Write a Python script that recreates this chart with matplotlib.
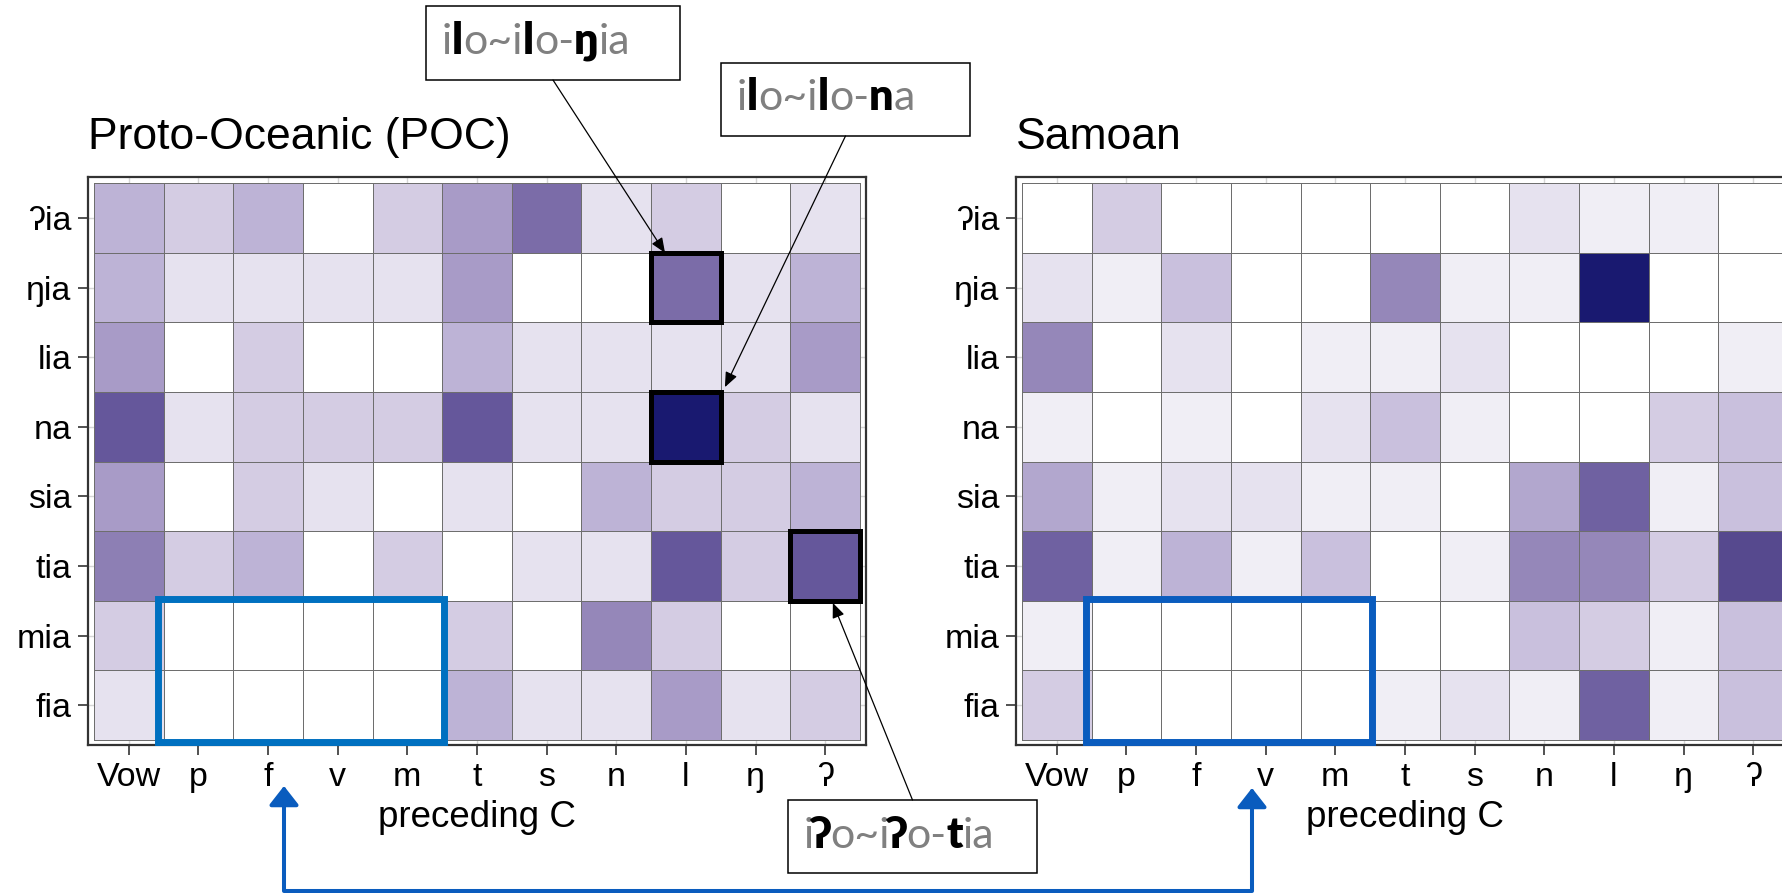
import numpy as np
import matplotlib
matplotlib.use("Agg")
from matplotlib import pyplot as plt
from matplotlib.colors import LinearSegmentedColormap
from matplotlib.patches import Rectangle, FancyArrowPatch
from matplotlib.path import Path
from matplotlib.offsetbox import TextArea, HPacker, AnnotationBbox

plt.rcParams['font.family'] = ['Liberation Sans', 'DejaVu Sans']

preceding = ['Vow', 'p', 'f', 'v', 'm', 't', 's', 'n', 'l', 'ŋ', 'ʔ']
suffixes = ['ʔia', 'ŋia', 'lia', 'na', 'sia', 'tia', 'mia', 'fia']

# shade levels, 0 = white, 10 = darkest
poc = [
    [4, 3, 4, 0, 3, 5, 7, 2, 3, 0, 2],
    [4, 2, 2, 2, 2, 5, 0, 0, 7, 2, 4],
    [5, 0, 3, 0, 0, 4, 2, 2, 2, 2, 5],
    [8, 2, 3, 3, 3, 8, 2, 2, 10, 3, 2],
    [5, 0, 3, 2, 0, 2, 0, 4, 3, 3, 4],
    [6.3, 3, 4, 0, 3, 0, 2, 2, 8, 3, 8],
    [3, 0, 0, 0, 0, 3, 0, 6, 3, 0, 0],
    [2, 0, 0, 0, 0, 4, 2, 2, 5, 2, 3],
]
samoan = [
    [0, 3, 0, 0, 0, 0, 0, 2, 1, 1, 0],
    [2, 1, 3.5, 0, 0, 6, 1, 1, 10, 0, 0],
    [6, 0, 2, 0, 1, 1, 2, 0, 0, 0, 1],
    [1, 0, 1, 0, 2, 3.5, 1, 0, 0, 3, 3.5],
    [4.5, 1, 2, 2, 1, 1, 0, 4.5, 7.5, 1, 3.5],
    [7.5, 1, 4, 1, 3.5, 0, 1, 6, 6, 3, 9],
    [1, 0, 0, 0, 0, 0, 0, 3.5, 3, 1, 3.5],
    [3, 0, 0, 0, 0, 1, 2, 1, 7.5, 1, 3.5],
]
highlighted = [('ŋia', 'l'), ('na', 'l'), ('tia', 'ʔ')]

cmap = LinearSegmentedColormap.from_list('purp', [
    (0.0, '#ffffff'), (0.1, '#f0eef5'), (0.2, '#e6e2ef'), (0.3, '#d4cce3'),
    (0.4, '#bdb3d6'), (0.5, '#a89bc7'), (0.6, '#9587b9'), (0.7, '#7b6ca8'),
    (0.8, '#65579b'), (0.9, '#574a8f'), (1.0, '#191970')])

W, H = 1783, 893
fig = plt.figure(figsize=(W / 100, H / 100), dpi=100)
ax1 = fig.add_axes([88 / W, 148 / H, 778 / W, 568 / H])
ax2 = fig.add_axes([1016 / W, 148 / H, 778 / W, 568 / H])


def heat(ax, data, title):
    z = np.array(data) / 10
    xe = np.arange(len(preceding) + 1) - 0.5
    ye = np.arange(len(suffixes) + 1) - 0.5
    ax.pcolormesh(xe, ye, z, cmap=cmap, vmin=0, vmax=1,
                  edgecolors='#6e6e6e', linewidth=0.65, zorder=2)
    ax.set_xlim(-0.586, 10.586)
    ax.set_ylim(7.572, -0.59)
    ax.set_xticks(range(len(preceding)), preceding)
    ax.set_yticks(range(len(suffixes)), suffixes)
    ax.grid(True, color='#d6d6d6', lw=1, zorder=0)
    ax.set_axisbelow(True)
    for s in ax.spines.values():
        s.set_color('#333333')
        s.set_linewidth(1.6)
    ax.tick_params(labelsize=24.5, length=7, width=1.2, color='#333333', pad=5)
    ax.set_xlabel('preceding C', fontsize=26.5, labelpad=5)
    ax.set_title(title, loc='left', fontsize=32, pad=20)
    ax.add_patch(Rectangle((0.42, 5.48), 4.1, 2.05, fill=False,
                           ec='#0070c0', lw=5, zorder=5, clip_on=False))


heat(ax1, poc, 'Proto-Oceanic (POC)')
heat(ax2, samoan, 'Samoan')
ax2.patches[-1].set_edgecolor('#0a5cbe')

for suf, c in highlighted:
    ax1.add_patch(Rectangle((preceding.index(c) - 0.5, suffixes.index(suf) - 0.5), 1, 1,
                            fill=False, ec='black', lw=3.6, zorder=6, clip_on=False))

gray = '#808080'
notes = [
    ([('i', 0), ('l', 1), ('o~i', 0), ('l', 1), ('o-', 0), ('ŋ', 1), ('ia', 0)],
     (426, 6, 680, 80), (7.7, 0.5), 'bottom'),
    ([('i', 0), ('l', 1), ('o~i', 0), ('l', 1), ('o-', 0), ('n', 1), ('a', 0)],
     (721, 63, 970, 136), (8.56, 2.43), 'bottom'),
    ([('i', 0), ('ʔ', 1), ('o~i', 0), ('ʔ', 1), ('o-', 0), ('t', 1), ('ia', 0)],
     (788, 800, 1037, 873), (10.11, 5.53), 'top'),
]
for parts, (x0, y0, x1, y1), tip, side in notes:
    fig.add_artist(Rectangle((x0 / W, 1 - y1 / H), (x1 - x0) / W, (y1 - y0) / H,
                             transform=fig.transFigure, fill=False, ec='black', lw=1.1))
    areas = [TextArea(t, textprops=dict(color='black' if b else gray,
                                        fontweight='heavy' if b else 'normal',
                                        fontsize=31, family=['Lato', 'DejaVu Sans']))
             for t, b in parts]
    pack = HPacker(children=areas, pad=0, sep=0, align='baseline')
    fig.add_artist(AnnotationBbox(pack, ((x0 + 16) / W, 1 - (y0 + y1) / 2 / H),
                                  xycoords='figure fraction', frameon=False,
                                  box_alignment=(0, 0.45)))
    ys = y1 if side == 'bottom' else y0
    ax1.annotate('', xy=tip, xycoords='data',
                 xytext=((x0 + x1) / 2 / W, 1 - ys / H), textcoords='figure fraction',
                 arrowprops=dict(arrowstyle='-|>,head_length=0.6,head_width=0.25',
                                 mutation_scale=15, lw=0.9, color='black',
                                 shrinkA=0, shrinkB=0), annotation_clip=False, zorder=7)

link = [(284, 786), (284, 891), (1252, 891), (1252, 788)]
verts = [(x / W, 1 - y / H) for x, y in link]
fig.add_artist(FancyArrowPatch(path=Path(verts), transform=fig.transFigure,
                               arrowstyle='<|-|>,head_length=1.15,head_width=0.9',
                               mutation_scale=10, lw=2.9, color='#0a5cbe'))

fig.savefig('out.png', dpi=100)
